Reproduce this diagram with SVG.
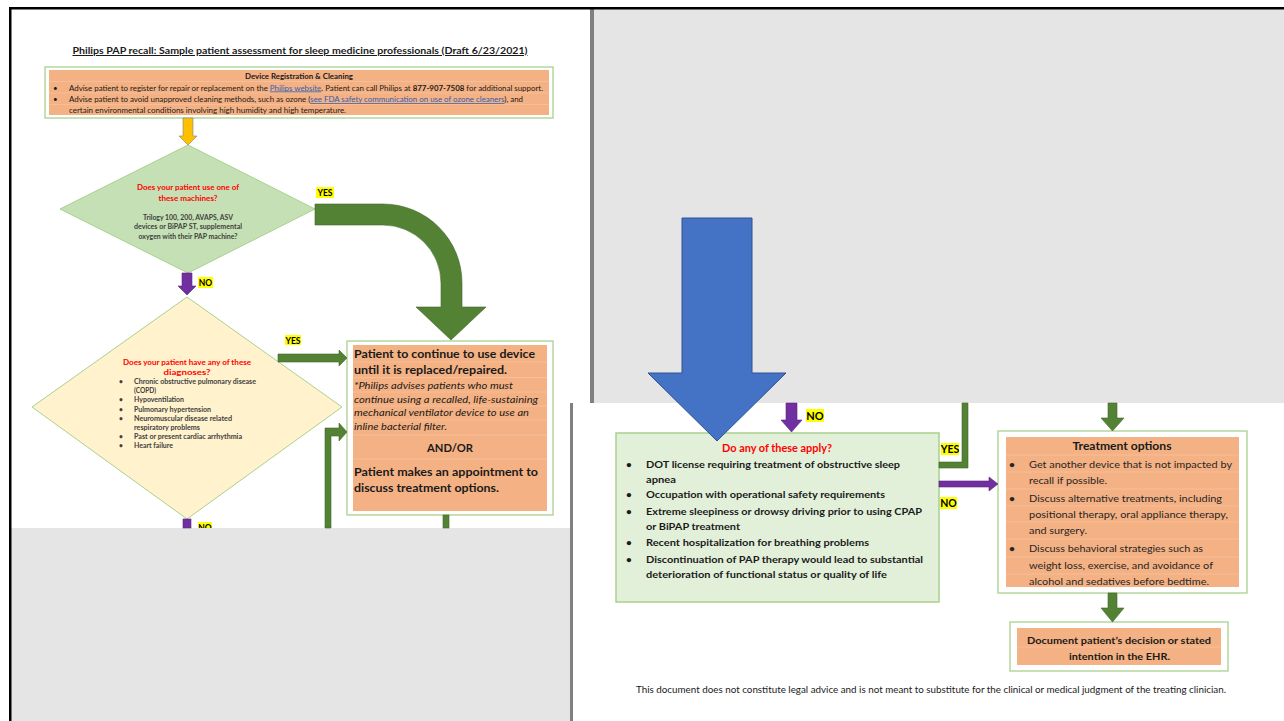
<svg xmlns="http://www.w3.org/2000/svg" width="1284" height="721" viewBox="0 0 1284 721">
<defs>
<style>
text{font-family:Lato,"Liberation Sans",sans-serif;}
.b{font-weight:700}
.i{font-style:italic}
.red{fill:#ff0000;font-weight:700}
.dk{fill:#1a1a1a}
.gr{fill:#404040;font-weight:700}
.mid{text-anchor:middle}
.outer{fill:#ffffff;stroke:#a9d18e;stroke-width:1.3}
.orange{fill:#f4b183}
.row{stroke:#f7c6a3;stroke-width:0.7}
.hl{fill:#ffff00}
.lbl{font-weight:700;fill:#000;text-anchor:middle}
.green{fill:#548235;stroke:#41672a;stroke-width:0.6}
.purple{fill:#7030a0;stroke:#5b2784;stroke-width:0.6}
.gray{fill:#e5e5e5}
.edge{fill:#808080}
</style>
<clipPath id="clipLeft"><rect x="0" y="0" width="570" height="528"/></clipPath>
</defs>
<rect x="0" y="0" width="1284" height="721" fill="#ffffff"/>

<!-- Left page -->
<g id="title">
<text x="300" y="54" class="b mid dk" font-size="10" text-decoration="underline" textLength="455" lengthAdjust="spacingAndGlyphs">Philips PAP recall: Sample patient assessment for sleep medicine professionals (Draft 6/23/2021)</text>
</g>

<g id="registration">
<rect x="45" y="67" width="508" height="51" class="outer"/>
<rect x="49" y="70" width="500" height="45" class="orange"/>
<line x1="49" y1="81.5" x2="549" y2="81.5" class="row"/>
<line x1="49" y1="93" x2="549" y2="93" class="row"/>
<line x1="49" y1="104.5" x2="549" y2="104.5" class="row"/>
<text x="299" y="79" class="b mid dk" font-size="7.5" textLength="108" lengthAdjust="spacingAndGlyphs">Device Registration &amp; Cleaning</text>
<text x="53" y="90.5" class="dk" font-size="8">•</text>
<text x="53" y="102" class="dk" font-size="8">•</text>
<text x="69" y="90.5" class="dk" font-size="7.3" textLength="474" lengthAdjust="spacingAndGlyphs">Advise patient to register for repair or replacement on the <tspan fill="#2f5fb3" text-decoration="underline">Philips website</tspan>. Patient can call Philips at <tspan font-weight="700">877-907-7508</tspan> for additional support.</text>
<text x="69" y="102" class="dk" font-size="7.3" textLength="454" lengthAdjust="spacingAndGlyphs">Advise patient to avoid unapproved cleaning methods, such as ozone (<tspan fill="#2f5fb3" text-decoration="underline">see FDA safety communication on use of ozone cleaners</tspan>), and</text>
<text x="69" y="113" class="dk" font-size="7.3" textLength="277" lengthAdjust="spacingAndGlyphs">certain environmental conditions involving high humidity and high temperature.</text>
</g>

<g id="diamond-machines">
<polygon points="188,145 315,209 188,273 60,209" fill="#c5e0b4" stroke="#a9d18e" stroke-width="1"/>
<text x="188" y="189.5" class="red mid" font-size="7.5" textLength="102" lengthAdjust="spacingAndGlyphs">Does your patient use one of</text>
<text x="188" y="200.5" class="red mid" font-size="7.5" textLength="59" lengthAdjust="spacingAndGlyphs">these machines?</text>
<text x="188" y="219.5" class="gr mid" font-size="7" textLength="90" lengthAdjust="spacingAndGlyphs">Trilogy 100, 200, AVAPS, ASV</text>
<text x="188" y="229" class="gr mid" font-size="7" textLength="108" lengthAdjust="spacingAndGlyphs">devices or BiPAP ST, supplemental</text>
<text x="188" y="239" class="gr mid" font-size="7" textLength="99" lengthAdjust="spacingAndGlyphs">oxygen with their PAP machine?</text>
</g>

<g id="diamond-diagnoses">
<polygon points="187,297 342,407 187,519 32,407" fill="#fff2cc" stroke="#a9d18e" stroke-width="1"/>
<text x="187" y="364.5" class="red mid" font-size="7.5" textLength="128" lengthAdjust="spacingAndGlyphs">Does your patient have any of these</text>
<text x="187" y="374.5" class="red mid" font-size="7.5" textLength="47" lengthAdjust="spacingAndGlyphs">diagnoses?</text>
<g class="gr" font-size="6.7">
<text x="119" y="384">•</text>
<text x="119" y="402">•</text>
<text x="119" y="411.5">•</text>
<text x="119" y="421">•</text>
<text x="119" y="439">•</text>
<text x="119" y="448">•</text>
<text x="134" y="384" textLength="122" lengthAdjust="spacingAndGlyphs">Chronic obstructive pulmonary disease</text>
<text x="134" y="392.5" textLength="22" lengthAdjust="spacingAndGlyphs">(COPD)</text>
<text x="134" y="402" textLength="50" lengthAdjust="spacingAndGlyphs">Hypoventilation</text>
<text x="134" y="411.5" textLength="77" lengthAdjust="spacingAndGlyphs">Pulmonary hypertension</text>
<text x="134" y="421" textLength="98" lengthAdjust="spacingAndGlyphs">Neuromuscular disease related</text>
<text x="134" y="429.5" textLength="66" lengthAdjust="spacingAndGlyphs">respiratory problems</text>
<text x="134" y="439" textLength="108" lengthAdjust="spacingAndGlyphs">Past or present cardiac arrhythmia</text>
<text x="134" y="448" textLength="39" lengthAdjust="spacingAndGlyphs">Heart failure</text>
</g>
</g>

<g id="continue-device">
<rect x="347" y="341" width="206" height="174" class="outer"/>
<rect x="353" y="345" width="194" height="166" class="orange"/>
<line x1="353" y1="362" x2="547" y2="362" class="row"/>
<line x1="353" y1="377.5" x2="547" y2="377.5" class="row"/>
<line x1="353" y1="392" x2="547" y2="392" class="row"/>
<line x1="353" y1="406" x2="547" y2="406" class="row"/>
<line x1="353" y1="420" x2="547" y2="420" class="row"/>
<line x1="353" y1="435" x2="547" y2="435" class="row"/>
<line x1="353" y1="459" x2="547" y2="459" class="row"/>
<text x="354" y="358" class="b dk" font-size="11.5" textLength="181" lengthAdjust="spacingAndGlyphs">Patient to continue to use device</text>
<text x="354" y="374" class="b dk" font-size="11.5" textLength="153" lengthAdjust="spacingAndGlyphs">until it is replaced/repaired.</text>
<text x="354" y="388.5" class="i dk" font-size="9.3" textLength="159" lengthAdjust="spacingAndGlyphs">*Philips advises patients who must</text>
<text x="354" y="402.5" class="i dk" font-size="9.3" textLength="184" lengthAdjust="spacingAndGlyphs">continue using a recalled, life-sustaining</text>
<text x="354" y="416" class="i dk" font-size="9.3" textLength="175" lengthAdjust="spacingAndGlyphs">mechanical ventilator device to use an</text>
<text x="354" y="430" class="i dk" font-size="9.3" textLength="93" lengthAdjust="spacingAndGlyphs">inline bacterial filter.</text>
<text x="450" y="452" class="b mid dk" font-size="11.5" textLength="46" lengthAdjust="spacingAndGlyphs">AND/OR</text>
<text x="354" y="476" class="b dk" font-size="11.5" textLength="184" lengthAdjust="spacingAndGlyphs">Patient makes an appointment to</text>
<text x="354" y="492" class="b dk" font-size="11.5" textLength="145" lengthAdjust="spacingAndGlyphs">discuss treatment options.</text>
</g>

<!-- Screen backgrounds -->
<g id="top-right-gray">
<rect x="590" y="8" width="694" height="395" class="gray"/>
<rect x="590" y="8" width="4" height="395" class="edge"/>
</g>
<g id="bottom-left-gray">
<rect x="11" y="528" width="560" height="193" class="gray"/>
</g>
<g id="bottom-right-page">
<rect x="571" y="403" width="713" height="318" fill="#ffffff"/>
<rect x="570" y="403" width="3" height="318" class="edge"/>
</g>

<!-- Right page -->
<g id="apply-box">
<rect x="616" y="433" width="323" height="169" fill="#e2f0d9" stroke="#a9d18e" stroke-width="1.5"/>
<text x="777" y="451.5" class="red mid" font-size="10.5" textLength="110" lengthAdjust="spacingAndGlyphs">Do any of these apply?</text>
<g class="b dk" font-size="10">
<text x="626" y="467.5">•</text>
<text x="626" y="497.5">•</text>
<text x="626" y="514.5">•</text>
<text x="626" y="545.5">•</text>
<text x="626" y="562.5">•</text>
<text x="646" y="467.5" textLength="254" lengthAdjust="spacingAndGlyphs">DOT license requiring treatment of obstructive sleep</text>
<text x="646" y="482.5" textLength="30" lengthAdjust="spacingAndGlyphs">apnea</text>
<text x="646" y="497.5" textLength="239" lengthAdjust="spacingAndGlyphs">Occupation with operational safety requirements</text>
<text x="646" y="514.5" textLength="276" lengthAdjust="spacingAndGlyphs">Extreme sleepiness or drowsy driving prior to using CPAP</text>
<text x="646" y="529.5" textLength="94" lengthAdjust="spacingAndGlyphs">or BiPAP treatment</text>
<text x="646" y="545.5" textLength="223" lengthAdjust="spacingAndGlyphs">Recent hospitalization for breathing problems</text>
<text x="646" y="562.5" textLength="277" lengthAdjust="spacingAndGlyphs">Discontinuation of PAP therapy would lead to substantial</text>
<text x="646" y="577.5" textLength="241" lengthAdjust="spacingAndGlyphs">deterioration of functional status or quality of life</text>
</g>
</g>

<g id="treatment-options">
<rect x="998" y="431" width="249" height="162" class="outer"/>
<rect x="1006" y="437" width="233" height="150" class="orange"/>
<line x1="1006" y1="455" x2="1239" y2="455" class="row"/>
<line x1="1006" y1="472" x2="1239" y2="472" class="row"/>
<line x1="1006" y1="489" x2="1239" y2="489" class="row"/>
<line x1="1006" y1="506" x2="1239" y2="506" class="row"/>
<line x1="1006" y1="522" x2="1239" y2="522" class="row"/>
<line x1="1006" y1="539" x2="1239" y2="539" class="row"/>
<line x1="1006" y1="557" x2="1239" y2="557" class="row"/>
<line x1="1006" y1="574" x2="1239" y2="574" class="row"/>
<text x="1122" y="450" class="b mid dk" font-size="11.5" textLength="99" lengthAdjust="spacingAndGlyphs">Treatment options</text>
<g fill="#262626" font-size="10.3">
<text x="1009" y="467.5" font-weight="700">•</text>
<text x="1009" y="501.5" font-weight="700">•</text>
<text x="1009" y="551.5" font-weight="700">•</text>
<text x="1029" y="467.5" textLength="203" lengthAdjust="spacingAndGlyphs">Get another device that is not impacted by</text>
<text x="1029" y="483.5" textLength="78" lengthAdjust="spacingAndGlyphs">recall if possible.</text>
<text x="1029" y="501.5" textLength="193" lengthAdjust="spacingAndGlyphs">Discuss alternative treatments, including</text>
<text x="1029" y="517.5" textLength="199" lengthAdjust="spacingAndGlyphs">positional therapy, oral appliance therapy,</text>
<text x="1029" y="533.5" textLength="58" lengthAdjust="spacingAndGlyphs">and surgery.</text>
<text x="1029" y="551.5" textLength="174" lengthAdjust="spacingAndGlyphs">Discuss behavioral strategies such as</text>
<text x="1029" y="568.5" textLength="184" lengthAdjust="spacingAndGlyphs">weight loss, exercise, and avoidance of</text>
<text x="1029" y="585" textLength="180" lengthAdjust="spacingAndGlyphs">alcohol and sedatives before bedtime.</text>
</g>
</g>

<g id="document-decision">
<rect x="1010" y="622" width="218" height="49" class="outer"/>
<rect x="1017" y="628" width="204" height="37" class="orange"/>
<line x1="1017" y1="647" x2="1221" y2="647" class="row"/>
<text x="1119" y="643.5" class="b mid dk" font-size="10.3" textLength="184" lengthAdjust="spacingAndGlyphs">Document patient’s decision or stated</text>
<text x="1119.5" y="659.5" class="b mid dk" font-size="10.3" textLength="101" lengthAdjust="spacingAndGlyphs">intention in the EHR.</text>
</g>

<g id="footer">
<text x="636" y="693" class="dk" font-size="8.8" textLength="590" lengthAdjust="spacingAndGlyphs">This document does not constitute legal advice and is not meant to substitute for the clinical or medical judgment of the treating clinician.</text>
</g>

<!-- Connectors -->
<g id="connectors">
<polygon points="183,118 193,118 193,136 197,136 188,145 179,136 183,136" fill="#ffc000" stroke="#7f7f7f" stroke-width="0.6"/>
<polygon points="182,273 192,273 192,286 196,286 187,295 178,286 182,286" class="purple"/>
<path d="M315,204 L383,204 A79,79 0 0 1 462,283 L462,307 L486,307 L451,340 L416,307 L441,307 L441,283 A58,58 0 0 0 383,225 L315,225 Z" class="green"/>
<polygon points="278,354 339,354 339,350 347,358 339,366 339,362 278,362" class="green"/>
<path d="M325,528 L325,428 L339,428 L339,423 L347,432 L339,441 L339,436 L331,436 L331,528 Z" class="green"/>
<rect x="443" y="515" width="6" height="13" class="green"/>
<rect x="183" y="519" width="8" height="9" class="purple"/>

<polygon points="786,403 797,403 797,420 802,420 791.5,432 781,420 786,420" class="purple"/>
<path d="M962,403 L968,403 L968,468 L939,468 L939,462 L962,462 Z" class="green"/>
<polygon points="939,481 989,481 989,477 998,484 989,491 989,487 939,487" class="purple"/>
<polygon points="1108,403 1117,403 1117,418 1124,418 1112.5,431 1101,418 1108,418" class="green"/>
<polygon points="1108,593 1117,593 1117,608 1124,608 1112.5,622 1101,608 1108,608" class="green"/>

<g id="labels">
<rect x="316" y="187" width="18" height="11" class="hl"/>
<text x="325" y="196" class="lbl" font-size="8.5">YES</text>
<rect x="198" y="277" width="15" height="11" class="hl"/>
<text x="205.5" y="286" class="lbl" font-size="8.5">NO</text>
<rect x="285" y="335" width="16" height="10" class="hl"/>
<text x="293" y="343.5" class="lbl" font-size="8.5">YES</text>
<g clip-path="url(#clipLeft)">
<rect x="198" y="522" width="14" height="11" class="hl"/>
<text x="205" y="531" class="lbl" font-size="8.5">NO</text>
</g>
<rect x="806" y="409" width="18" height="13" class="hl"/>
<text x="815" y="419.5" class="lbl" font-size="11">NO</text>
<rect x="941" y="443" width="18" height="12" class="hl"/>
<text x="950" y="453" class="lbl" font-size="10.5">YES</text>
<rect x="940" y="497" width="17" height="12" class="hl"/>
<text x="948.5" y="507" class="lbl" font-size="10.5">NO</text>
</g>

<polygon points="682,218 752,218 752,373 786,373 717,441 648,373 682,373" fill="#4472c4" stroke="#2f528f" stroke-width="1"/>
</g>

<!-- Window frame -->
<g id="frame">
<rect x="9" y="7" width="1275" height="2.5" fill="#000000"/>
<rect x="9" y="7" width="2.5" height="714" fill="#000000"/>
</g>
</svg>
